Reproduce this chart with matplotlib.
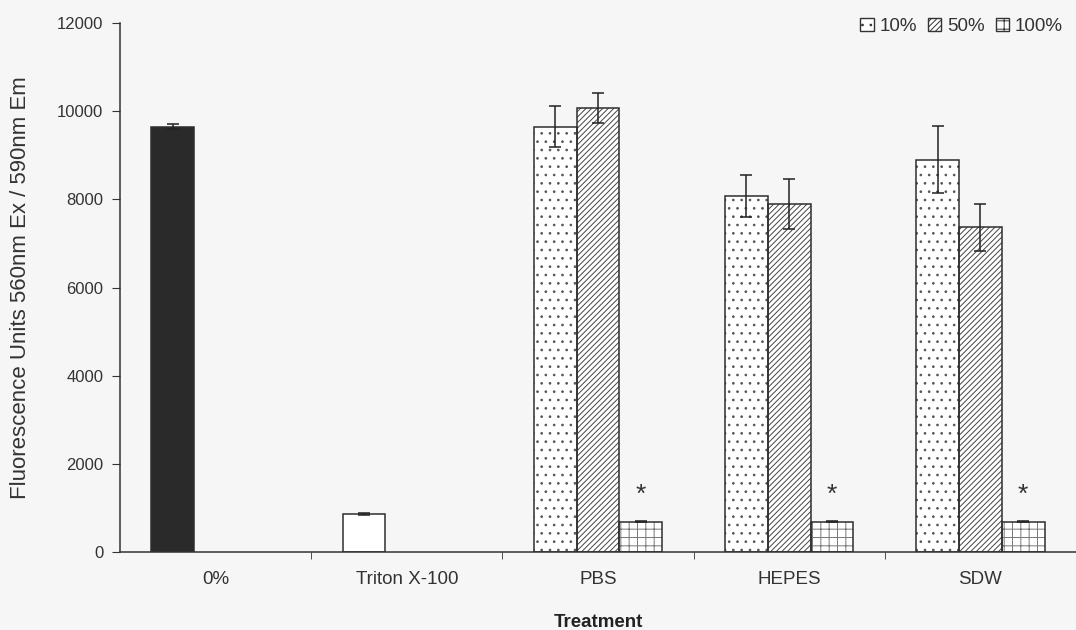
import matplotlib
matplotlib.use("Agg")
import matplotlib.pyplot as plt
import numpy as np
from matplotlib.patches import Patch

plt.rcParams['font.family'] = ['Liberation Sans', 'DejaVu Sans']
plt.rcParams['hatch.linewidth'] = 0.7

categories = ["0%", "Triton X-100", "PBS", "HEPES", "SDW"]
series = ["10%", "50%", "100%"]

control_values = [9650, 870]
control_errors = [60, 20]

treat_10 = [9650, 8070, 8900]
treat_10_err = [465, 475, 760]
treat_50 = [10070, 7900, 7370]
treat_50_err = [340, 565, 535]
treat_100 = [690, 690, 690]
treat_100_err = [20, 20, 20]

yticks = [0, 2000, 4000, 6000, 8000, 10000, 12000]

bg = '#f6f6f6'
edge = '#2e2e2e'
fig = plt.figure(figsize=(10.76, 6.3), dpi=100, facecolor=bg)
ax = fig.add_axes([0.1115, 0.1238, 0.8885, 0.8397], facecolor=bg)

w = 0.224
x = np.arange(len(categories))
ek = dict(ecolor='#222222', elinewidth=1.1, capsize=4, capthick=1.1)

# Controls
ax.bar(x[0] - w, control_values[0], w, yerr=control_errors[0], color='#2a2a2a',
       edgecolor=edge, linewidth=1.1, error_kw=ek, zorder=2)
ax.bar(x[1] - w, control_values[1], w, yerr=control_errors[1], color='white',
       edgecolor=edge, linewidth=1.1, error_kw=ek, zorder=2)

xt = x[2:]
styles = [(xt - w, treat_10, treat_10_err, '..', '#555555'),
          (xt, treat_50, treat_50_err, '//////', '#444444'),
          (xt + w, treat_100, treat_100_err, '++', '#777777')]
for pos, vals, errs, h, hc in styles:
    ax.bar(pos, vals, w, color='white', edgecolor=hc, hatch=h, linewidth=0, zorder=2)
    ax.bar(pos, vals, w, yerr=errs, fill=False, edgecolor=edge, linewidth=1.1,
           error_kw=ek, zorder=3)

for xi, v in zip(xt + w, treat_100):
    ax.text(xi, v + 330, "*", ha='center', va='bottom', fontsize=19, color='#333333')

ax.set_xlim(-0.5, 4.469)
ax.set_ylim(0, 12000)
ax.set_yticks(yticks)
ax.set_yticklabels([str(t) for t in yticks], fontsize=12, color='#333333')
ax.set_xticks(x)
ax.set_xticklabels(categories, fontsize=13.5, color='#333333')
ax.tick_params(axis='x', length=0, pad=14)
ax.set_xticks(np.arange(0.5, 5, 1), minor=True)
ax.tick_params(axis='x', which='minor', length=5, direction='out', color='#333333')
ax.tick_params(axis='y', length=6, direction='out', color='#333333', pad=6)

for s in ['top', 'right']:
    ax.spines[s].set_visible(False)
for s in ['left', 'bottom']:
    ax.spines[s].set_color('#333333')
    ax.spines[s].set_linewidth(1.1)

ax.set_xlabel("Treatment", fontsize=13.5, fontweight='bold', color='#222222')
ax.xaxis.set_label_coords(0.5, -0.117)
ax.set_ylabel("Fluorescence Units 560nm Ex / 590nm Em", fontsize=16, color='#333333')
ax.yaxis.set_label_coords(-0.093, 0.5)

handles = [Patch(facecolor='white', edgecolor='#333333', hatch='..', label=series[0]),
           Patch(facecolor='white', edgecolor='#333333', hatch='//////', label=series[1]),
           Patch(facecolor='white', edgecolor='#333333', hatch='++', label=series[2])]
fig.legend(handles=handles, loc='upper right', bbox_to_anchor=(1.003, 0.999), ncol=3,
           frameon=False, fontsize=13.5, handlelength=0.7, handleheight=0.7,
           handletextpad=0.3, columnspacing=0.6, labelcolor='#333333')

fig.savefig("out.png", dpi=100, facecolor=bg)
